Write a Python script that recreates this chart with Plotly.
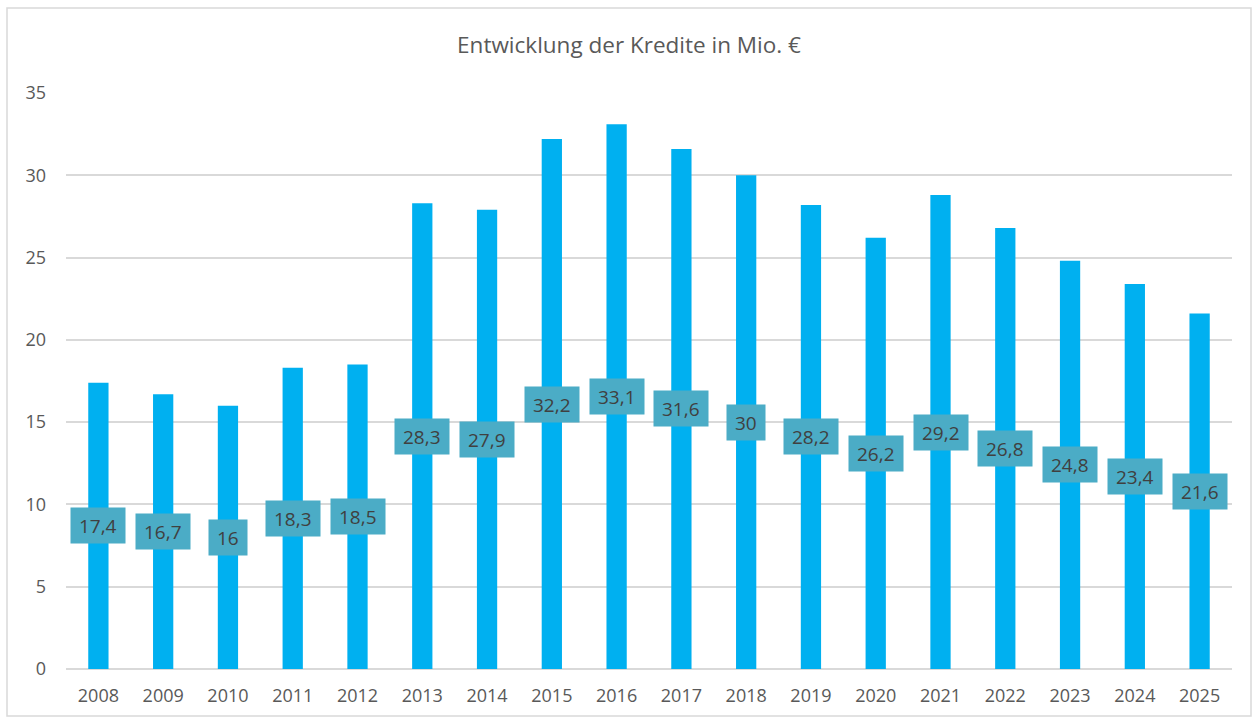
import plotly.graph_objects as go

years = ["2008", "2009", "2010", "2011", "2012", "2013", "2014", "2015", "2016",
         "2017", "2018", "2019", "2020", "2021", "2022", "2023", "2024", "2025"]
values = [17.4, 16.7, 16.0, 18.3, 18.5, 28.3, 27.9, 32.2, 33.1,
          31.6, 30.0, 28.2, 26.2, 28.8, 26.8, 24.8, 23.4, 21.6]
labels = ["17,4", "16,7", "16", "18,3", "18,5", "28,3", "27,9", "32,2", "33,1",
          "31,6", "30", "28,2", "26,2", "29,2", "26,8", "24,8", "23,4", "21,6"]
y_ticks = [0, 5, 10, 15, 20, 25, 30, 35]
title = "Entwicklung der Kredite in Mio. €"

FONT = "'Open Sans', Lato, sans-serif"
GREY = "#595959"
LBL_SIZE = 19
idx = list(range(len(years)))

fig = go.Figure()
fig.add_trace(go.Bar(x=idx, y=values, marker=dict(color="#00B0F0", line=dict(width=0)),
                     customdata=years, hovertemplate="%{customdata}: %{y}<extra></extra>",
                     showlegend=False))


def text_width(s, size):
    w = 0.0
    for ch in s:
        w += 0.26 if ch in ",." else 0.572
    return w * size


for i, v, lab in zip(idx, values, labels):
    fig.add_annotation(x=i, y=v / 2, xref="x", yref="y", text=lab, showarrow=False,
                       bgcolor="#4BACC6", borderpad=5,
                       width=text_width(lab, LBL_SIZE) + 6, height=25,
                       font=dict(family=FONT, size=LBL_SIZE, color="#404040"))

fig.add_shape(type="rect", xref="paper", yref="paper",
              x0=-0.0506, x1=1.0163, y0=-0.0816, y1=1.1476,
              line=dict(color="#D9D9D9", width=1.5), fillcolor="rgba(0,0,0,0)", layer="below")

fig.update_layout(
    width=1258, height=720,
    margin=dict(l=66, r=26, t=93, b=51, autoexpand=False),
    paper_bgcolor="white", plot_bgcolor="white",
    bargap=0.687,
    title=dict(text=title, x=0.5, xanchor="center", y=1 - 45 / 720, yanchor="middle",
               font=dict(family=FONT, size=22.5, color=GREY)),
    font=dict(family=FONT, color=GREY, size=18),
    xaxis=dict(range=[-0.5, len(years) - 0.5], tickvals=idx, ticktext=years,
               automargin=False, showgrid=False, showline=False, zeroline=False, ticks="",
               tickfont=dict(size=18, color=GREY), ticklabelstandoff=14),
    yaxis=dict(range=[0, 35], automargin=False, tickvals=y_ticks, showgrid=True,
               gridcolor="#D9D9D9", gridwidth=1.5, zeroline=True, zerolinecolor="#D9D9D9",
               zerolinewidth=1.5, showline=False, ticks="",
               tickfont=dict(size=18, color=GREY), ticklabelstandoff=19),
)

fig.write_html("out.html", config={"displayModeBar": False},
               post_script="document.body.style.margin='0';")
